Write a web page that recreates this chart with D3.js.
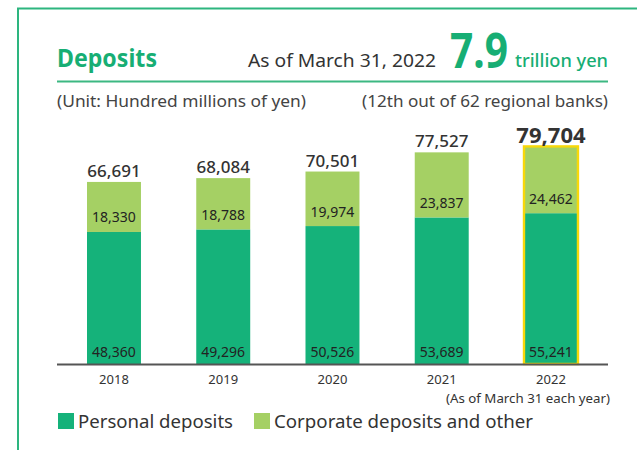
<!DOCTYPE html>
<html>
<head>
<meta charset="utf-8">
<script src="https://cdn.jsdelivr.net/npm/d3@7"></script>
<style>
  html, body { margin: 0; padding: 0; background: #fff; }
  svg { display: block; font-family: "Noto Sans", "Open Sans", sans-serif; }
</style>
</head>
<body>
<div id="chart"></div>
<script>
// Deposits at March 31 of each year (hundred millions of yen)
const years = ["2018", "2019", "2020", "2021", "2022"];
const personal = [48360, 49296, 50526, 53689, 55241];
const corporate = [18330, 18788, 19974, 23837, 24462];
const totals = [66691, 68084, 70501, 77527, 79704];
const seriesNames = ["Personal deposits", "Corporate deposits and other"];

const width = 637,
  height = 450;

const darkGreen = "#15b27a",
  lightGreen = "#a5d064",
  frameGreen = "#2db57f",
  highlight = "#f7d80a",
  textColor = "#333";

const fmt = d3.format(",");

const svg = d3
  .select("#chart")
  .append("svg")
  .attr("width", width)
  .attr("height", height);

// Frame: only the top and left edges are visible
svg
  .append("path")
  .attr("d", "M18,460V8.5H650")
  .attr("fill", "none")
  .attr("stroke", frameGreen)
  .attr("stroke-width", 2);

// Header
svg
  .append("text")
  .attr("x", 57)
  .attr("y", 67)
  .attr("font-size", 25)
  .attr("font-weight", 700)
  .attr("fill", "#17ae74")
  .attr("textLength", 100)
  .attr("lengthAdjust", "spacingAndGlyphs")
  .text("Deposits");

svg
  .append("text")
  .attr("x", 248)
  .attr("y", 67)
  .attr("font-size", 18)
  .attr("fill", textColor)
  .attr("textLength", 188)
  .attr("lengthAdjust", "spacingAndGlyphs")
  .text("As of March 31, 2022");

svg
  .append("text")
  .attr("x", 450)
  .attr("y", 67.5)
  .attr("font-size", 48)
  .attr("font-weight", 700)
  .attr("fill", "#17ae74")
  .attr("textLength", 58)
  .attr("lengthAdjust", "spacingAndGlyphs")
  .text("7.9");

svg
  .append("text")
  .attr("x", 515)
  .attr("y", 67)
  .attr("font-size", 18)
  .attr("font-weight", 500)
  .attr("fill", "#17ae74")
  .attr("textLength", 93)
  .attr("lengthAdjust", "spacingAndGlyphs")
  .text("trillion yen");

svg
  .append("line")
  .attr("x1", 57)
  .attr("x2", 608)
  .attr("y1", 81.5)
  .attr("y2", 81.5)
  .attr("stroke", "#3cb882")
  .attr("stroke-width", 2);

svg
  .append("text")
  .attr("x", 57)
  .attr("y", 106.5)
  .attr("font-size", 16.5)
  .attr("fill", "#444")
  .attr("textLength", 249)
  .attr("lengthAdjust", "spacingAndGlyphs")
  .text("(Unit: Hundred millions of yen)");

svg
  .append("text")
  .attr("x", 362)
  .attr("y", 106.5)
  .attr("font-size", 16.5)
  .attr("fill", "#444")
  .attr("textLength", 246)
  .attr("lengthAdjust", "spacingAndGlyphs")
  .text("(12th out of 62 regional banks)");

// Scales
const x = d3
  .scaleBand()
  .domain(years)
  .range([59.36, 605.6])
  .paddingInner(0.506)
  .paddingOuter(0.253);

const y = d3.scaleLinear().domain([0, 80000]).range([364, 145.6]);

const rows = years.map((yr, i) => ({
  year: yr,
  personal: personal[i],
  corporate: corporate[i],
  total: totals[i],
}));

const stack = d3.stack().keys(["personal", "corporate"]);
const layers = stack(rows);
const colors = { personal: darkGreen, corporate: lightGreen };

// Stacked bars
svg
  .append("g")
  .selectAll("g")
  .data(layers)
  .join("g")
  .attr("fill", (d) => colors[d.key])
  .selectAll("rect")
  .data((d) => d)
  .join("rect")
  .attr("x", (d) => x(d.data.year))
  .attr("width", x.bandwidth())
  .attr("y", (d) => y(d[1]))
  .attr("height", (d) => y(d[0]) - y(d[1]));

// Highlight latest year
const last = rows[rows.length - 1];
svg
  .append("rect")
  .attr("x", x(last.year))
  .attr("width", x.bandwidth())
  .attr("y", y(last.personal + last.corporate))
  .attr("height", y(0) - y(last.personal + last.corporate))
  .attr("fill", "none")
  .attr("stroke", highlight)
  .attr("stroke-width", 2.4);

// Axis
const axis = svg
  .append("g")
  .attr("transform", `translate(0,${y(0)})`)
  .call(d3.axisBottom(x).tickSize(0).tickPadding(11));
axis.select(".domain").remove();
axis
  .selectAll("text")
  .attr("font-family", "Noto Sans, sans-serif")
  .attr("font-size", 13)
  .attr("fill", textColor);

svg
  .append("line")
  .attr("x1", 57)
  .attr("x2", 608)
  .attr("y1", y(0) + 0.5)
  .attr("y2", y(0) + 0.5)
  .attr("stroke", "#555")
  .attr("stroke-width", 2);

// Value labels
const cx = (d) => x(d.year) + x.bandwidth() / 2;

svg
  .append("g")
  .selectAll("text")
  .data(rows)
  .join("text")
  .attr("x", cx)
  .attr("y", (d) => y(0) - 6.7)
  .attr("text-anchor", "middle")
  .attr("font-size", 14)
  .attr("fill", "#222")
  .text((d) => fmt(d.personal));

svg
  .append("g")
  .selectAll("text")
  .data(rows)
  .join("text")
  .attr("x", cx)
  .attr("y", (d) => y(d.personal) - 9.5)
  .attr("text-anchor", "middle")
  .attr("font-size", 14)
  .attr("fill", "#222")
  .text((d) => fmt(d.corporate));

svg
  .append("g")
  .selectAll("text")
  .data(rows)
  .join("text")
  .attr("x", cx)
  .attr("y", (d, i) =>
    i === rows.length - 1
      ? y(d.personal + d.corporate) - 3
      : y(d.personal + d.corporate) - 5
  )
  .attr("text-anchor", "middle")
  .attr("font-size", (d, i) => (i === rows.length - 1 ? 22 : 17))
  .attr("font-weight", (d, i) => (i === rows.length - 1 ? 700 : 500))
  .attr("fill", textColor)
  .text((d) => fmt(d.total));

svg
  .append("text")
  .attr("x", 610)
  .attr("y", 403)
  .attr("text-anchor", "end")
  .attr("font-size", 13)
  .attr("fill", textColor)
  .attr("textLength", 164)
  .attr("lengthAdjust", "spacingAndGlyphs")
  .text("(As of March 31 each year)");

// Legend
const legend = [
  { name: seriesNames[0], color: darkGreen, x: 58, w: 155 },
  { name: seriesNames[1], color: lightGreen, x: 254, w: 259 },
];
const lg = svg
  .append("g")
  .selectAll("g")
  .data(legend)
  .join("g")
  .attr("transform", (d) => `translate(${d.x},413)`);
lg.append("rect")
  .attr("width", 16)
  .attr("height", 16)
  .attr("fill", (d) => d.color);
lg.append("text")
  .attr("x", 20)
  .attr("y", 15)
  .attr("font-size", 18)
  .attr("fill", textColor)
  .attr("textLength", (d) => d.w)
  .attr("lengthAdjust", "spacingAndGlyphs")
  .text((d) => d.name);
</script>
</body>
</html>
